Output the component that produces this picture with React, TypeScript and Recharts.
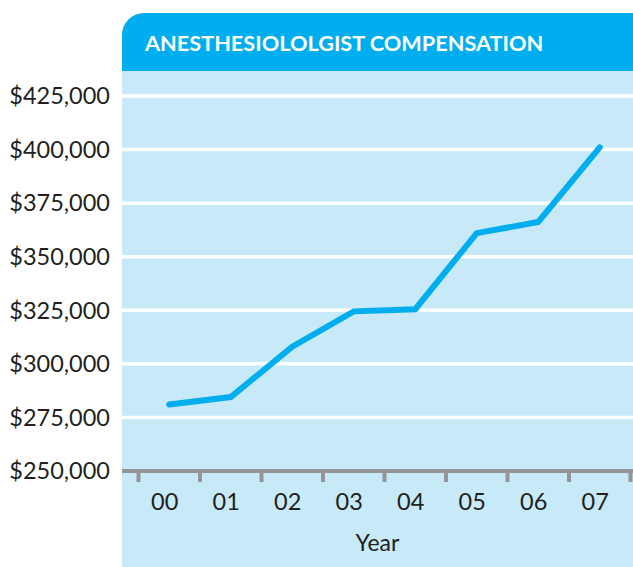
import { LineChart, Line, XAxis, YAxis, CartesianGrid } from 'recharts';

const YEARS = ['00', '01', '02', '03', '04', '05', '06', '07'];
const COMPENSATION = [281000, 284500, 308000, 324500, 325500, 361000, 366200, 401000];
const Y_TICKS = [250000, 275000, 300000, 325000, 350000, 375000, 400000, 425000];
const X_TICKS = [-0.5, 0, 0.5, 1, 1.5, 2, 2.5, 3, 3.5, 4, 4.5, 5, 5.5, 6, 6.5, 7, 7.5];

const data = YEARS.map((year, i) => ({ idx: i, year, value: COMPENSATION[i] }));

const FONT = 'Lato, "Open Sans", sans-serif';

function YearTick(props: any) {
  const { x, y, payload } = props;
  const v = payload.value as number;
  if (!Number.isInteger(v)) {
    return <line x1={x} x2={x} y1={y} y2={y + 11} stroke="#939598" strokeWidth={4} />;
  }
  return (
    <text x={x - 4.5} y={y + 39} textAnchor="middle" fill="#231f20" fontSize={23.5} fontFamily={FONT}>
      {YEARS[v]}
    </text>
  );
}

export default function App() {
  return (
    <div style={{ position: 'absolute', left: 0, top: 0, width: 633, height: 567, background: '#fff', overflow: 'hidden' }}>
      <div style={{ position: 'absolute', left: 122, top: 13, width: 533, height: 58, background: '#00aeef', borderRadius: '22px 22px 0 0' }} />
      <div style={{ position: 'absolute', left: 122, top: 71, width: 511, height: 496, background: '#c7e9f8' }} />
      <div
        style={{
          position: 'absolute',
          left: 145,
          top: 32,
          fontFamily: FONT,
          fontWeight: 700,
          fontSize: 21.7,
          lineHeight: '22px',
          color: '#fff',
          whiteSpace: 'nowrap',
        }}
      >
        ANESTHESIOLOLGIST COMPENSATION
      </div>
      <div style={{ position: 'absolute', left: 0, top: 0 }}>
        <LineChart width={633} height={567} data={data} margin={{ top: 96, right: 0, bottom: 0, left: 0 }}>
          <CartesianGrid vertical={false} stroke="#ffffff" strokeWidth={3.5} horizontalValues={Y_TICKS.slice(1)} />
          <XAxis
            dataKey="idx"
            type="number"
            domain={[-0.5, 7.5]}
            ticks={X_TICKS}
            interval={0}
            padding={{ left: 16.5, right: 2.5 }}
            height={96}
            tickSize={0}
            tickMargin={0}
            tickLine={false}
            axisLine={{ stroke: '#939598', strokeWidth: 4 }}
            tick={<YearTick />}
            label={{ value: 'Year', position: 'insideBottom', offset: 16, fill: '#231f20', fontSize: 23, fontFamily: FONT }}
          />
          <YAxis
            type="number"
            domain={[250000, 425000]}
            ticks={Y_TICKS}
            interval={0}
            width={122}
            axisLine={false}
            tickLine={false}
            tickSize={6}
            tickMargin={6}
            tick={{ fill: '#231f20', fontSize: 23.5, fontFamily: FONT }}
            tickFormatter={(v: number) => `$${v.toLocaleString('en-US')}`}
          />
          <Line
            type="linear"
            dataKey="value"
            stroke="#00aeef"
            strokeWidth={6}
            strokeLinecap="round"
            strokeLinejoin="miter"
            dot={false}
            activeDot={false}
            isAnimationActive={false}
          />
        </LineChart>
      </div>
    </div>
  );
}
